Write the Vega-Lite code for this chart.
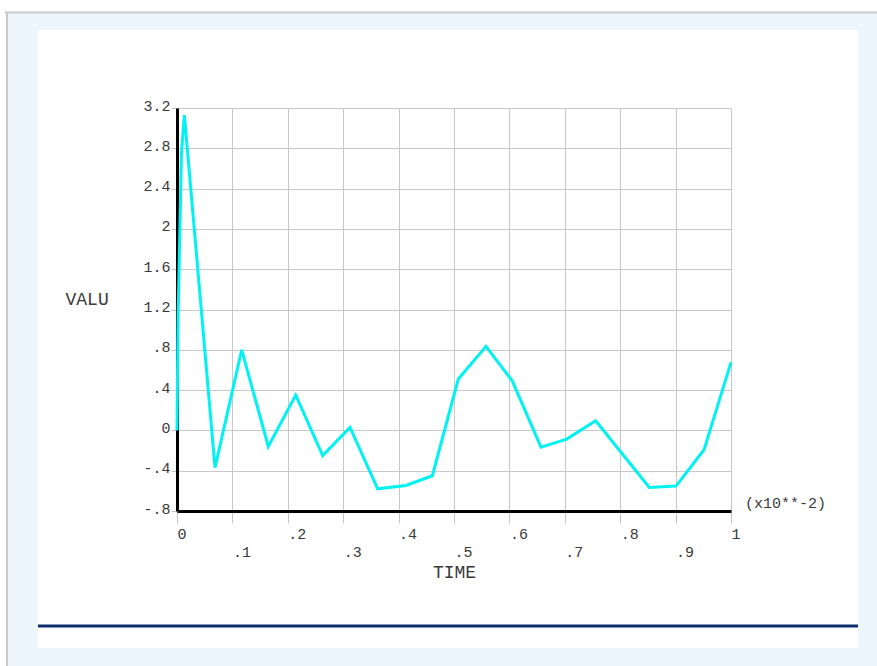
{
  "$schema": "https://vega.github.io/schema/vega-lite/v6.json",
  "width": 554,
  "height": 403,
  "autosize": {"type": "none"},
  "padding": {"left": 177, "top": 108, "right": 146, "bottom": 155},
  "background": "#ffffff",
  "config": {
    "view": {"stroke": null},
    "font": "Liberation Mono"
  },
  "datasets": {
    "one": [{}],
    "series": [
      {"t": 0, "v": 0},
      {"t": 0.002, "v": 1.15},
      {"t": 0.0045, "v": 1.8},
      {"t": 0.008, "v": 2.75},
      {"t": 0.0133, "v": 3.13},
      {"t": 0.0686, "v": -0.37},
      {"t": 0.1168, "v": 0.8},
      {"t": 0.1648, "v": -0.16},
      {"t": 0.2143, "v": 0.35},
      {"t": 0.263, "v": -0.25},
      {"t": 0.3123, "v": 0.03},
      {"t": 0.3622, "v": -0.58},
      {"t": 0.4134, "v": -0.546},
      {"t": 0.4609, "v": -0.45},
      {"t": 0.5078, "v": 0.51},
      {"t": 0.5578, "v": 0.834},
      {"t": 0.6053, "v": 0.49},
      {"t": 0.657, "v": -0.166},
      {"t": 0.7034, "v": -0.086},
      {"t": 0.7557, "v": 0.095},
      {"t": 0.8526, "v": -0.566},
      {"t": 0.9007, "v": -0.553},
      {"t": 0.9513, "v": -0.192},
      {"t": 1.0, "v": 0.675}
    ]
  },
  "layer": [
    {
      "data": {"name": "one"},
      "mark": {"type": "rect", "color": "#eef6fd"},
      "encoding": {
        "x": {"datum": -0.30866, "type": "quantitative", "scale": {"domain": [0, 1], "nice": false, "zero": false}},
        "x2": {"datum": -0.2509},
        "y": {"datum": 4.14293, "type": "quantitative", "scale": {"domain": [-0.8, 3.2], "nice": false, "zero": false}},
        "y2": {"datum": -2.33848}
      }
    },
    {
      "data": {"name": "one"},
      "mark": {"type": "rect", "color": "#eef6fd"},
      "encoding": {
        "x": {"datum": 1.22924, "type": "quantitative"},
        "x2": {"datum": 1.27},
        "y": {"datum": 4.14293, "type": "quantitative"},
        "y2": {"datum": -2.33848}
      }
    },
    {
      "data": {"name": "one"},
      "mark": {"type": "rect", "color": "#eef6fd"},
      "encoding": {
        "x": {"datum": -0.30866, "type": "quantitative"},
        "x2": {"datum": 1.27},
        "y": {"datum": 4.14293, "type": "quantitative"},
        "y2": {"datum": 3.97419}
      }
    },
    {
      "data": {"name": "one"},
      "mark": {"type": "rect", "color": "#eef6fd"},
      "encoding": {
        "x": {"datum": -0.30866, "type": "quantitative"},
        "x2": {"datum": 1.27},
        "y": {"datum": -2.1598, "type": "quantitative"},
        "y2": {"datum": -2.34}
      }
    },
    {
      "data": {"name": "one"},
      "mark": {"type": "rule", "color": "#c6cacd", "strokeWidth": 2},
      "encoding": {
        "x": {"datum": -0.31047, "type": "quantitative"},
        "x2": {"datum": 1.27},
        "y": {"datum": 4.14789, "type": "quantitative"}
      }
    },
    {
      "data": {"name": "one"},
      "mark": {"type": "rule", "color": "#c6cacd", "strokeWidth": 2},
      "encoding": {
        "x": {"datum": -0.30686, "type": "quantitative"},
        "y": {"datum": 4.15, "type": "quantitative"},
        "y2": {"datum": -2.34}
      }
    },
    {
      "data": {"name": "one"},
      "mark": {"type": "rule", "color": "#0b2d6c", "strokeWidth": 3},
      "encoding": {
        "x": {"datum": -0.2509, "type": "quantitative"},
        "x2": {"datum": 1.22924},
        "y": {"datum": -1.94146, "type": "quantitative"}
      }
    },
    {
      "data": {"name": "series"},
      "mark": {"type": "line", "color": "#00f2f2", "strokeWidth": 3, "strokeJoin": "miter"},
      "encoding": {
        "x": {
          "field": "t",
          "type": "quantitative",
          "scale": {"domain": [0, 1], "nice": false, "zero": false},
          "axis": {
            "values": [0, 0.1, 0.2, 0.3, 0.4, 0.5, 0.6, 0.7, 0.8, 0.9, 1],
            "labelExpr": "round(datum.value*10)%2==1 ? ['', replace(toString(datum.value), '0.', '.')] : replace(toString(datum.value), '0.', '.')",
            "labelLineHeight": 18,
            "title": "TIME",
            "titleFont": "Liberation Mono",
            "titleFontSize": 18,
            "titleFontWeight": "normal",
            "titleColor": "#3a3a3a",
            "titleBaseline": "middle",
            "titleY": 61,
            "titleX": 277,
            "labelFont": "Liberation Mono",
            "labelFontSize": 15,
            "labelColor": "#3a3a3a",
            "labelAlign": "left",
            "labelBaseline": "top",
            "labelPadding": 3,
            "labelOverlap": false,
            "labelFlush": false,
            "tickSize": 12,
            "tickColor": "#c4c4c4",
            "tickWidth": 1,
            "domainColor": "#000000",
            "domainWidth": 3,
            "gridColor": "#c8c8c8",
            "gridWidth": 1,
            "grid": true
          }
        },
        "y": {
          "field": "v",
          "type": "quantitative",
          "scale": {"domain": [-0.8, 3.2], "nice": false, "zero": false},
          "axis": {
            "values": [-0.8, -0.4, 0, 0.4, 0.8, 1.2, 1.6, 2, 2.4, 2.8, 3.2],
            "labelExpr": "replace(toString(datum.value), '0.', '.')",
            "title": "VALU",
            "titleFont": "Liberation Mono",
            "titleFontSize": 18,
            "titleFontWeight": "normal",
            "titleColor": "#3a3a3a",
            "titleAngle": 0,
            "titleAlign": "left",
            "titleBaseline": "middle",
            "titleX": -112,
            "titleY": 191,
            "labelFont": "Liberation Mono",
            "labelFontSize": 15,
            "labelColor": "#3a3a3a",
            "labelAlign": "right",
            "labelBaseline": "alphabetic",
            "labelOffset": 2,
            "labelPadding": 1,
            "labelOverlap": false,
            "labelFlush": false,
            "tickSize": 6,
            "tickColor": "#c4c4c4",
            "tickWidth": 1,
            "domainColor": "#000000",
            "domainWidth": 3,
            "gridColor": "#c8c8c8",
            "gridWidth": 1,
            "grid": true
          }
        }
      }
    },
    {
      "data": {"name": "one"},
      "mark": {"type": "text", "text": "(x10**-2)", "align": "left", "baseline": "middle", "dx": 14, "dy": -8, "font": "Liberation Mono", "fontSize": 15, "fontWeight": "normal", "fill": "#3a3a3a"},
      "encoding": {
        "x": {"datum": 1, "type": "quantitative"},
        "y": {"datum": -0.8, "type": "quantitative"}
      }
    }
  ]
}
